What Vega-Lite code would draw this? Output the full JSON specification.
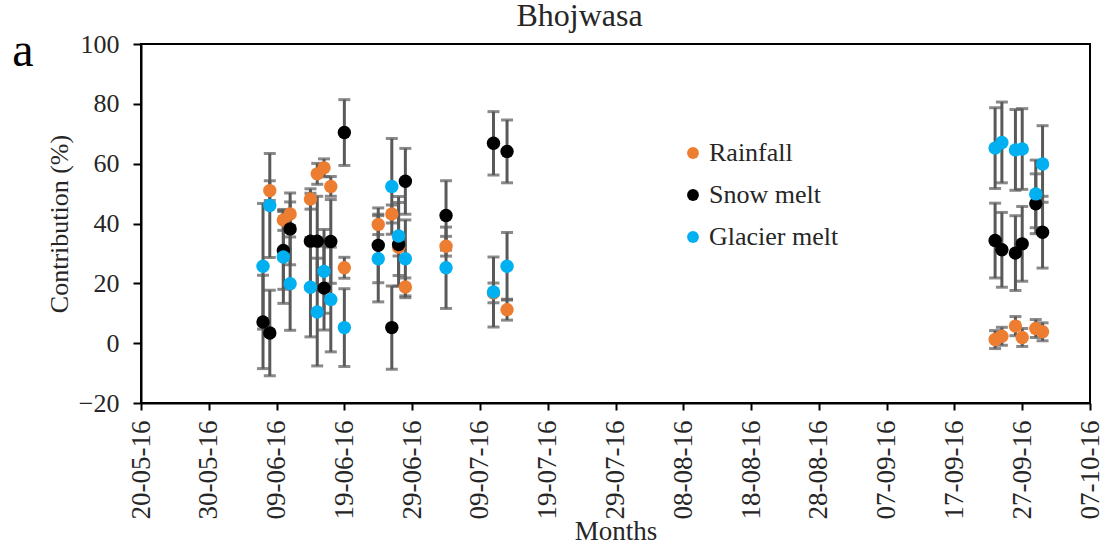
{
  "$schema": "https://vega.github.io/schema/vega-lite/v6.json",
  "autosize": "none",
  "padding": {"left": 141, "top": 44, "right": 15, "bottom": 147},
  "width": 949,
  "height": 359,
  "background": "white",
  "title": {
    "text": "Bhojwasa",
    "font": "Liberation Serif",
    "fontSize": 32,
    "fontWeight": "normal",
    "color": "#262626",
    "anchor": "middle",
    "frame": "group",
    "dx": -36,
    "dy": 30,
    "baseline": "alphabetic",
    "offset": 0
  },
  "config": {
    "view": {"stroke": "#000000", "strokeWidth": 2},
    "axis": {"grid": false, "domainColor": "#000000", "domainWidth": 2, "tickColor": "#000000", "tickWidth": 2, "labelFont": "Liberation Serif", "labelColor": "#262626", "titleFont": "Liberation Serif", "titleColor": "#262626", "titleFontWeight": "normal"},
    "legend": {"labelFont": "Liberation Serif"}
  },
  "datasets": {
    "main": [
      {"date": "2016-06-08", "series": "Rainfall", "value": 51.0, "err": 3.3},
      {"date": "2016-06-10", "series": "Rainfall", "value": 41.2, "err": 3.5},
      {"date": "2016-06-11", "series": "Rainfall", "value": 43.2, "err": 4.0},
      {"date": "2016-06-14", "series": "Rainfall", "value": 48.2, "err": 3.4},
      {"date": "2016-06-15", "series": "Rainfall", "value": 56.6, "err": 3.5},
      {"date": "2016-06-16", "series": "Rainfall", "value": 58.6, "err": 3.0},
      {"date": "2016-06-17", "series": "Rainfall", "value": 52.4, "err": 3.3},
      {"date": "2016-06-19", "series": "Rainfall", "value": 25.2, "err": 3.5},
      {"date": "2016-06-24", "series": "Rainfall", "value": 39.7, "err": 3.4},
      {"date": "2016-06-26", "series": "Rainfall", "value": 43.2, "err": 3.0},
      {"date": "2016-06-27", "series": "Rainfall", "value": 32.1, "err": 3.0},
      {"date": "2016-06-28", "series": "Rainfall", "value": 18.8, "err": 3.0},
      {"date": "2016-07-04", "series": "Rainfall", "value": 32.4, "err": 3.3},
      {"date": "2016-07-11", "series": "Rainfall", "value": 16.8, "err": 3.3},
      {"date": "2016-07-13", "series": "Rainfall", "value": 11.2, "err": 3.5},
      {"date": "2016-09-23", "series": "Rainfall", "value": 1.2, "err": 3.0},
      {"date": "2016-09-24", "series": "Rainfall", "value": 2.3, "err": 3.0},
      {"date": "2016-09-26", "series": "Rainfall", "value": 5.7, "err": 3.2},
      {"date": "2016-09-27", "series": "Rainfall", "value": 1.9, "err": 3.0},
      {"date": "2016-09-29", "series": "Rainfall", "value": 4.9, "err": 3.0},
      {"date": "2016-09-30", "series": "Rainfall", "value": 3.8, "err": 3.0},
      {"date": "2016-06-07", "series": "Snow melt", "value": 7.1, "err": 15.6},
      {"date": "2016-06-08", "series": "Snow melt", "value": 3.4, "err": 14.3},
      {"date": "2016-06-10", "series": "Snow melt", "value": 31.0, "err": 13.0},
      {"date": "2016-06-11", "series": "Snow melt", "value": 38.2, "err": 12.0},
      {"date": "2016-06-14", "series": "Snow melt", "value": 34.1, "err": 16.0},
      {"date": "2016-06-15", "series": "Snow melt", "value": 34.1, "err": 15.0},
      {"date": "2016-06-16", "series": "Snow melt", "value": 18.4, "err": 14.0},
      {"date": "2016-06-17", "series": "Snow melt", "value": 34.0, "err": 14.0},
      {"date": "2016-06-19", "series": "Snow melt", "value": 70.4, "err": 11.0},
      {"date": "2016-06-24", "series": "Snow melt", "value": 32.7, "err": 12.5},
      {"date": "2016-06-26", "series": "Snow melt", "value": 5.2, "err": 13.9},
      {"date": "2016-06-27", "series": "Snow melt", "value": 33.0, "err": 14.0},
      {"date": "2016-06-28", "series": "Snow melt", "value": 54.1, "err": 11.0},
      {"date": "2016-07-04", "series": "Snow melt", "value": 42.7, "err": 11.6},
      {"date": "2016-07-11", "series": "Snow melt", "value": 66.8, "err": 10.6},
      {"date": "2016-07-13", "series": "Snow melt", "value": 64.1, "err": 10.5},
      {"date": "2016-09-23", "series": "Snow melt", "value": 34.3, "err": 12.5},
      {"date": "2016-09-24", "series": "Snow melt", "value": 31.2, "err": 12.5},
      {"date": "2016-09-26", "series": "Snow melt", "value": 30.1, "err": 12.5},
      {"date": "2016-09-27", "series": "Snow melt", "value": 33.2, "err": 12.5},
      {"date": "2016-09-29", "series": "Snow melt", "value": 46.6, "err": 10.0},
      {"date": "2016-09-30", "series": "Snow melt", "value": 37.1, "err": 12.0},
      {"date": "2016-06-07", "series": "Glacier melt", "value": 25.7, "err": 21.0},
      {"date": "2016-06-08", "series": "Glacier melt", "value": 46.0, "err": 17.4},
      {"date": "2016-06-10", "series": "Glacier melt", "value": 28.8, "err": 15.5},
      {"date": "2016-06-11", "series": "Glacier melt", "value": 19.9, "err": 15.6},
      {"date": "2016-06-14", "series": "Glacier melt", "value": 18.7, "err": 16.6},
      {"date": "2016-06-15", "series": "Glacier melt", "value": 10.4, "err": 18.0},
      {"date": "2016-06-16", "series": "Glacier melt", "value": 24.0, "err": 14.0},
      {"date": "2016-06-17", "series": "Glacier melt", "value": 14.6, "err": 17.5},
      {"date": "2016-06-19", "series": "Glacier melt", "value": 5.2, "err": 13.0},
      {"date": "2016-06-24", "series": "Glacier melt", "value": 28.2, "err": 14.4},
      {"date": "2016-06-26", "series": "Glacier melt", "value": 52.4, "err": 16.0},
      {"date": "2016-06-27", "series": "Glacier melt", "value": 35.8, "err": 13.2},
      {"date": "2016-06-28", "series": "Glacier melt", "value": 28.2, "err": 13.0},
      {"date": "2016-07-04", "series": "Glacier melt", "value": 25.2, "err": 13.6},
      {"date": "2016-07-11", "series": "Glacier melt", "value": 17.1, "err": 11.7},
      {"date": "2016-07-13", "series": "Glacier melt", "value": 25.7, "err": 11.3},
      {"date": "2016-09-23", "series": "Glacier melt", "value": 65.2, "err": 13.5},
      {"date": "2016-09-24", "series": "Glacier melt", "value": 67.1, "err": 13.5},
      {"date": "2016-09-26", "series": "Glacier melt", "value": 64.6, "err": 13.5},
      {"date": "2016-09-27", "series": "Glacier melt", "value": 64.9, "err": 13.5},
      {"date": "2016-09-29", "series": "Glacier melt", "value": 49.9, "err": 11.3},
      {"date": "2016-09-30", "series": "Glacier melt", "value": 59.9, "err": 12.8}
    ],
    "panel": [{"label": "a"}]
  },
  "layer": [
    {
      "data": {"name": "main"},
      "mark": {"type": "errorbar", "ticks": true, "size": 12, "thickness": 3, "color": "#595959"},
      "encoding": {
        "x": {
          "field": "date", "type": "temporal",
          "scale": {"type": "utc", "domain": [{"year": 2016, "month": 5, "date": 20, "utc": true}, {"year": 2016, "month": 10, "date": 7, "utc": true}], "nice": false},
          "axis": {
            "title": "Months",
            "titleFontSize": 27,
            "titlePadding": 0,
            "labelFontSize": 27,
            "labelAngle": -90,
            "labelPadding": 10,
            "tickSize": 7,
            "format": "%d-%m-%y",
            "values": [
              {"year": 2016, "month": 5, "date": 20, "utc": true},
              {"year": 2016, "month": 5, "date": 30, "utc": true},
              {"year": 2016, "month": 6, "date": 9, "utc": true},
              {"year": 2016, "month": 6, "date": 19, "utc": true},
              {"year": 2016, "month": 6, "date": 29, "utc": true},
              {"year": 2016, "month": 7, "date": 9, "utc": true},
              {"year": 2016, "month": 7, "date": 19, "utc": true},
              {"year": 2016, "month": 7, "date": 29, "utc": true},
              {"year": 2016, "month": 8, "date": 8, "utc": true},
              {"year": 2016, "month": 8, "date": 18, "utc": true},
              {"year": 2016, "month": 8, "date": 28, "utc": true},
              {"year": 2016, "month": 9, "date": 7, "utc": true},
              {"year": 2016, "month": 9, "date": 17, "utc": true},
              {"year": 2016, "month": 9, "date": 27, "utc": true},
              {"year": 2016, "month": 10, "date": 7, "utc": true}
            ]
          }
        },
        "y": {
          "field": "value", "type": "quantitative",
          "scale": {"domain": [-20, 100], "nice": false, "zero": false},
          "axis": {
            "title": "Contribution (%)",
            "titleFontSize": 26,
            "titlePadding": 6,
            "labelFontSize": 26,
            "labelPadding": 14,
            "tickSize": 8,
            "values": [-20, 0, 20, 40, 60, 80, 100]
          }
        },
        "yError": {"field": "err"}
      }
    },
    {
      "data": {"name": "main"},
      "mark": {"type": "point", "filled": true, "size": 180, "opacity": 1},
      "encoding": {
        "x": {"field": "date", "type": "temporal", "title": "Months"},
        "y": {"field": "value", "type": "quantitative", "title": "Contribution (%)"},
        "color": {
          "field": "series", "type": "nominal",
          "scale": {"domain": ["Rainfall", "Snow melt", "Glacier melt"], "range": ["#ED7D31", "#000000", "#00B0F0"]},
          "legend": {
            "title": null,
            "orient": "none",
            "legendX": 539,
            "legendY": 96,
            "padding": 0,
            "symbolType": "circle",
            "symbolSize": 140,
            "symbolStrokeWidth": 0,
            "labelFont": "Liberation Serif",
            "labelFontSize": 26,
            "labelColor": "#262626",
            "labelOffset": 3,
            "rowPadding": 16
          }
        }
      }
    },
    {
      "data": {"name": "panel"},
      "mark": {"type": "text", "font": "Liberation Serif", "fontSize": 48, "align": "left", "baseline": "alphabetic", "color": "#000000"},
      "encoding": {
        "x": {"datum": {"year": 2016, "month": 5, "date": 1, "utc": true}, "type": "temporal"},
        "y": {"datum": 92.7, "type": "quantitative"},
        "text": {"field": "label"}
      }
    }
  ]
}
